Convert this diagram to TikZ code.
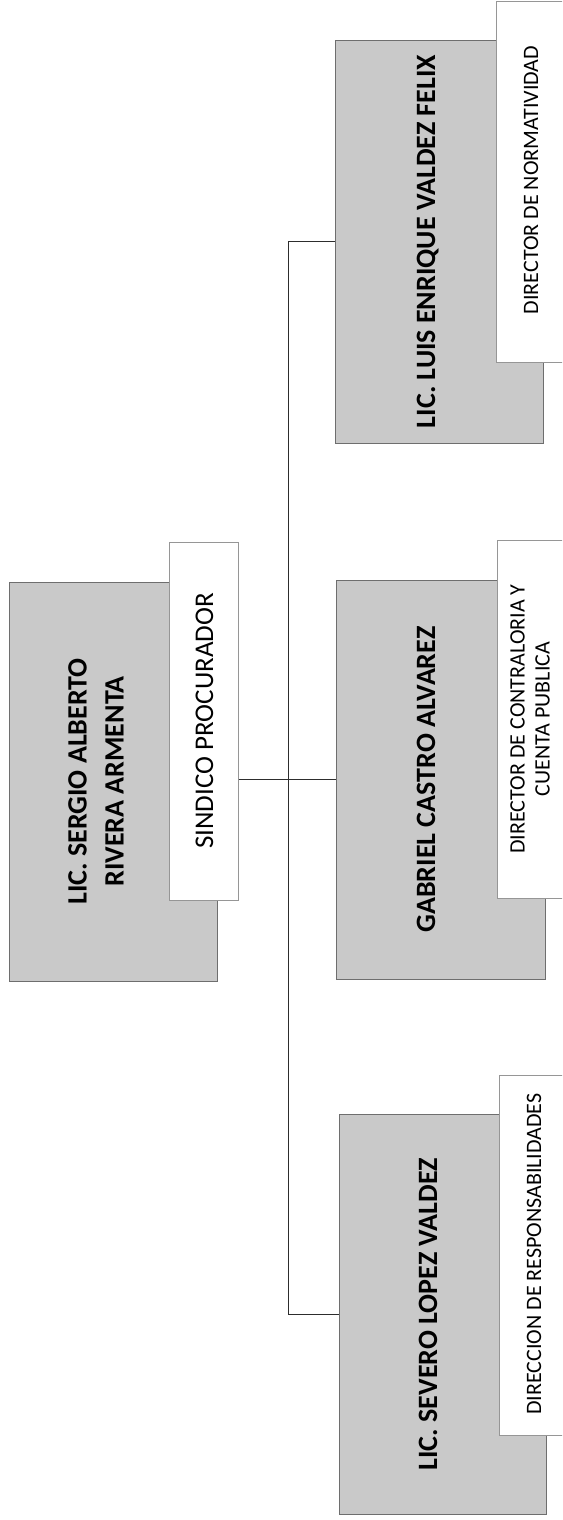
\documentclass[tikz,border=0pt]{standalone}
\usepackage{fontspec}
\setmainfont{Carlito}
\definecolor{boxgray}{RGB}{201,201,201}
\definecolor{edgegray}{RGB}{110,110,110}
\definecolor{lightedge}{RGB}{150,150,150}
\definecolor{linecol}{RGB}{45,45,45}
\begin{document}
\begin{tikzpicture}[x=1pt,y=-1pt,
  graybox/.style={draw=edgegray, line width=0.7pt, fill=boxgray, inner sep=0pt, anchor=north west},
  whitebox/.style={draw=lightedge, line width=0.6pt, fill=white, inner sep=0pt, anchor=north west},
  nametext/.style={rotate=90, anchor=base, inner sep=0pt, font=\fontsize{28}{34}\selectfont\bfseries},
  roletext/.style={rotate=90, anchor=base, inner sep=0pt, font=\fontsize{22}{25}\selectfont},
  conn/.style={draw=linecol, line width=0.9pt}]
\useasboundingbox (0,0) rectangle (562,1520);
\clip (0,0) rectangle (562,1520);
% boxes
\node[graybox, minimum width=208pt, minimum height=403pt] (luis) at (335,40) {};
\node[whitebox, minimum width=80pt, minimum height=361pt] (norm) at (496,1) {};
\node[graybox, minimum width=208pt, minimum height=399pt] (sergio) at (9,582) {};
\node[whitebox, minimum width=69pt, minimum height=358pt] (sind) at (169,542) {};
\node[graybox, minimum width=209pt, minimum height=399pt] (gab) at (336,580) {};
\node[whitebox, minimum width=80pt, minimum height=358pt] (contra) at (497,540) {};
\node[graybox, minimum width=207pt, minimum height=400pt] (sev) at (339,1114) {};
\node[whitebox, minimum width=80pt, minimum height=360pt] (resp) at (499,1075) {};
% texts
\node[nametext] (tluis) at (435,241.5) {LIC. LUIS ENRIQUE VALDEZ FELIX};
\node[roletext] (tnorm) at (538,180) {DIRECTOR DE NORMATIVIDAD};
\node[rotate=90, anchor=center, inner sep=0pt, align=center, font=\fontsize{28}{37}\selectfont\bfseries] (tsergio) at (96,781.5) {LIC. SERGIO ALBERTO\\RIVERA ARMENTA};
\node[rotate=90, anchor=base, inner sep=0pt, font=\fontsize{27}{30}\selectfont] (tsind) at (213,721) {SINDICO PROCURADOR};
\node[nametext] (tgab) at (435,779.5) {GABRIEL CASTRO ALVAREZ};
\node[rotate=90, anchor=center, inner sep=0pt, align=center, font=\fontsize{22}{25}\selectfont] (tcontra) at (530,719) {DIRECTOR DE CONTRALORIA Y\\CUENTA PUBLICA};
\node[nametext] (tsev) at (437,1314) {LIC. SEVERO LOPEZ VALDEZ};
\node[roletext] (tresp) at (541,1254) {DIRECCION DE RESPONSABILIDADES};
% connectors
\coordinate (vx) at (288,0);
\draw[conn] (luis.west) -- (luis.west -| vx) -- (sev.west -| vx) -- (sev.west);
\draw[conn] (sind.east |- gab.west) -- (gab.west);
\end{tikzpicture}
\end{document}
